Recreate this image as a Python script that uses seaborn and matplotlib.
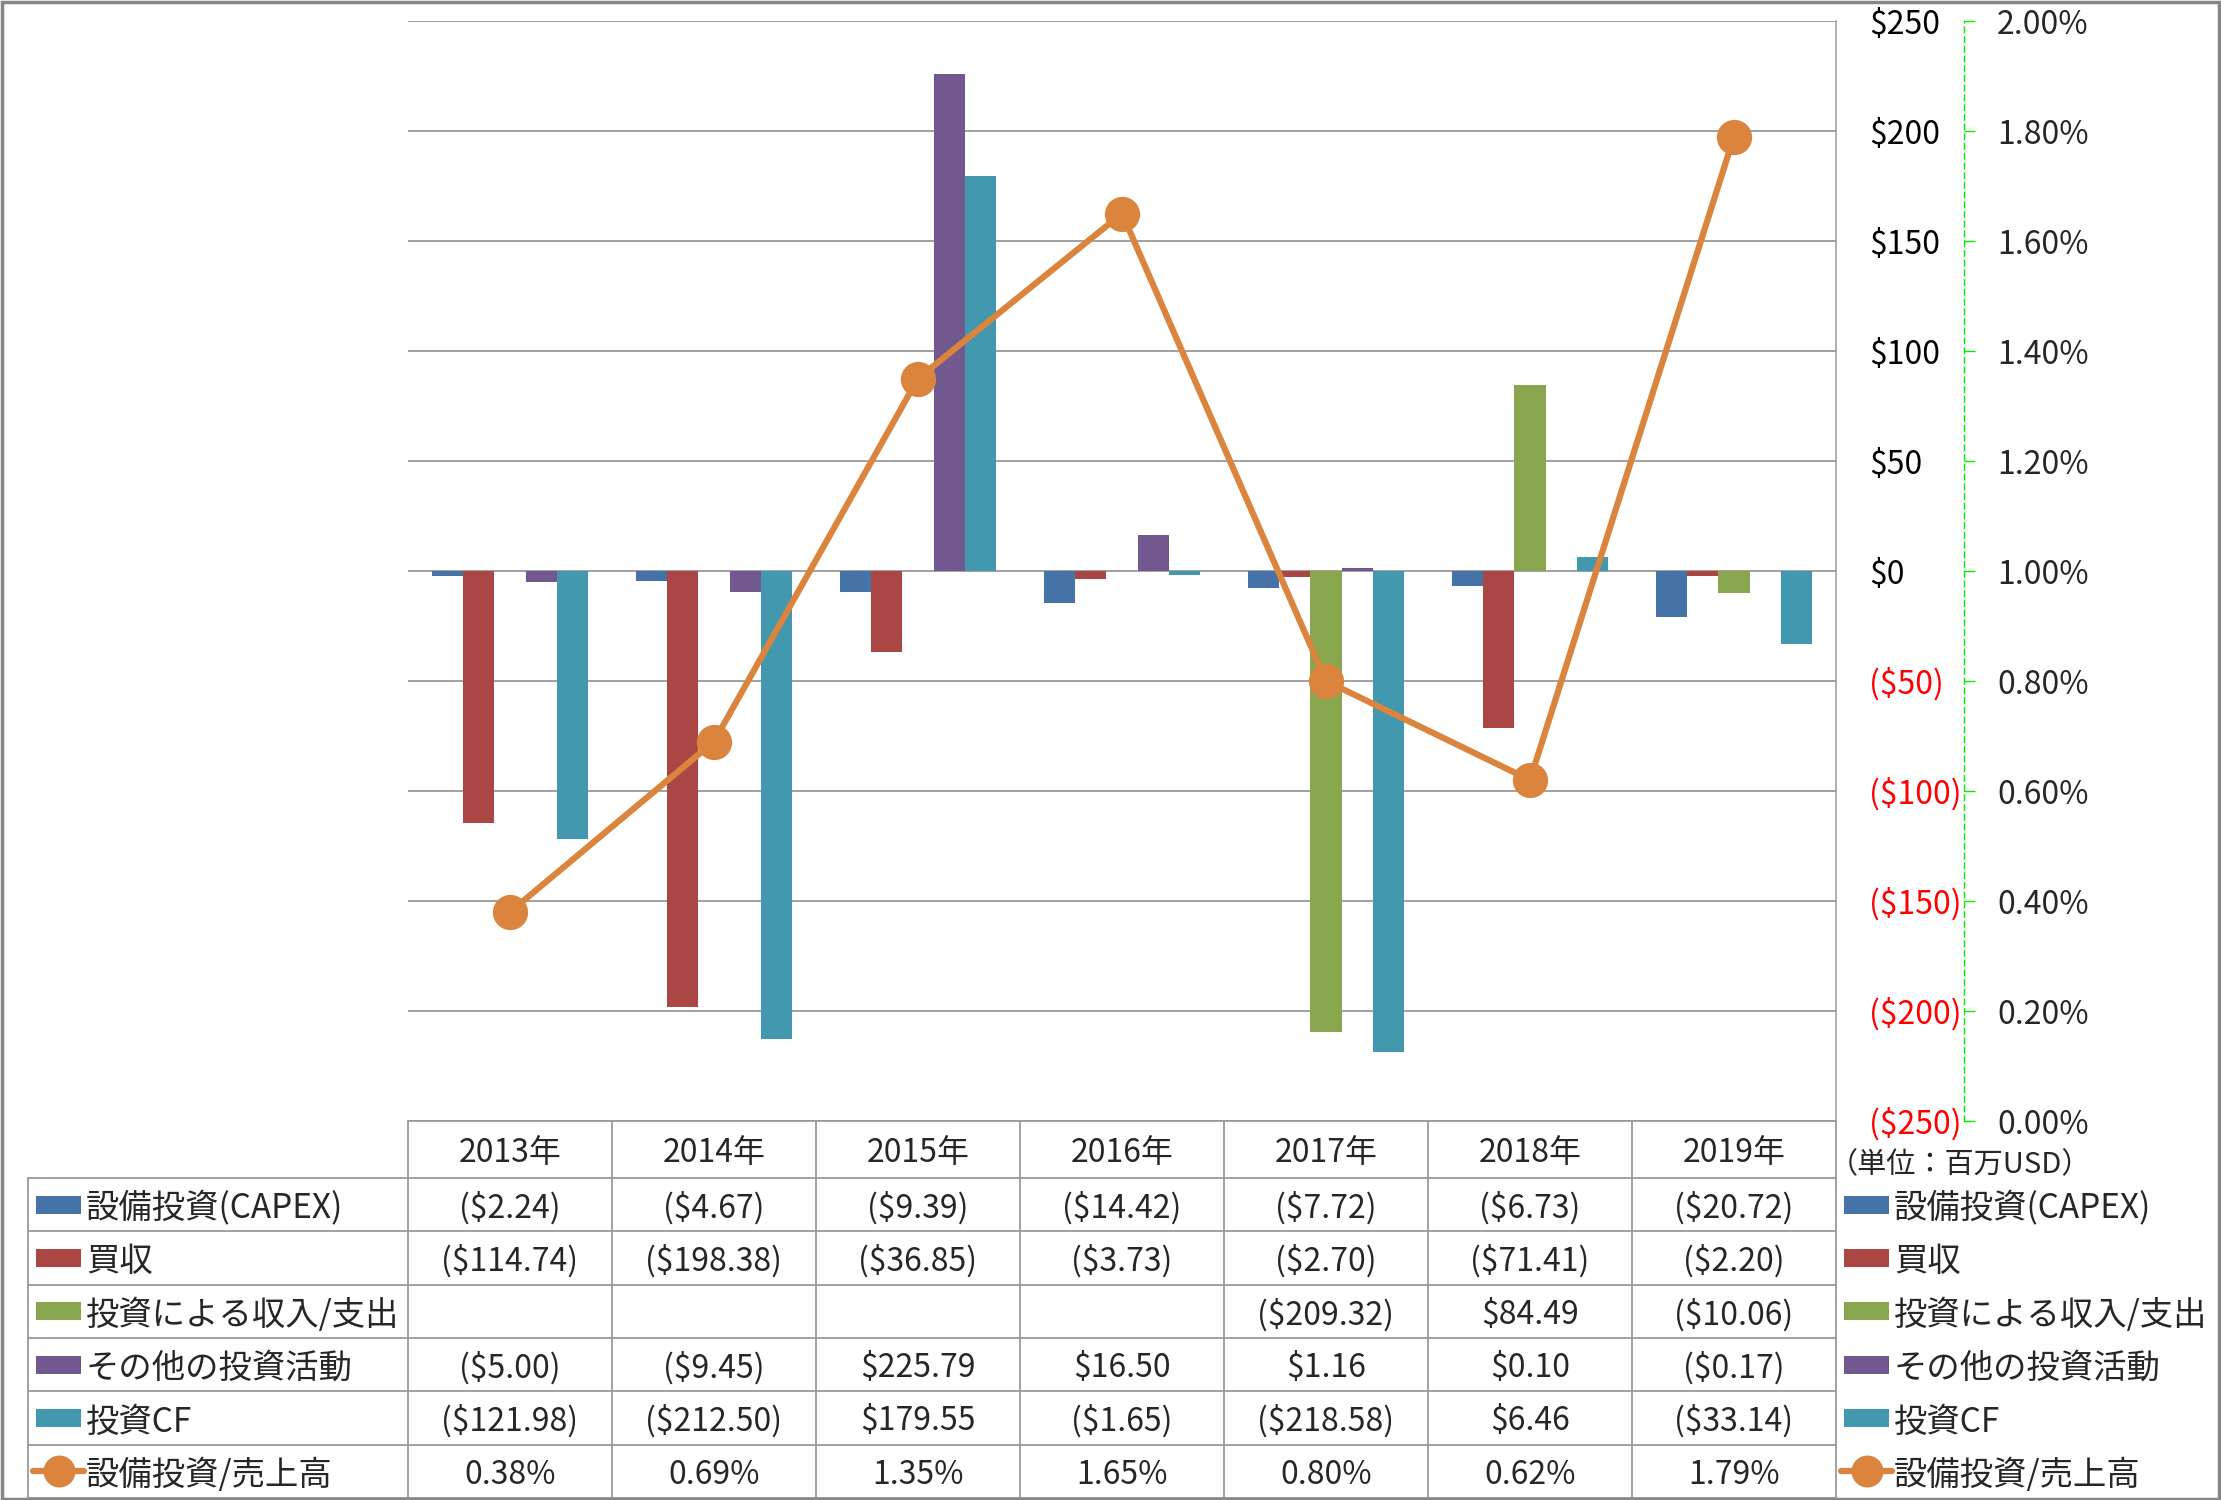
import numpy as np
import pandas as pd
import matplotlib.pyplot as plt
import seaborn as sns
from matplotlib.patches import Rectangle

years = ['2013年', '2014年', '2015年', '2016年', '2017年', '2018年', '2019年']
series = ['設備投資(CAPEX)', '買収', '投資による収入/支出', 'その他の投資活動', '投資CF']
capex = [-2.24, -4.67, -9.39, -14.42, -7.72, -6.73, -20.72]
acquisition = [-114.74, -198.38, -36.85, -3.73, -2.70, -71.41, -2.20]
invest_income = [np.nan, np.nan, np.nan, np.nan, -209.32, 84.49, -10.06]
other_invest = [-5.00, -9.45, 225.79, 16.50, 1.16, 0.10, -0.17]
invest_cf = [-121.98, -212.50, 179.55, -1.65, -218.58, 6.46, -33.14]
ratio_name = '設備投資/売上高'
capex_ratio = [0.38, 0.69, 1.35, 1.65, 0.80, 0.62, 1.79]  # percent

colors = ['#4572A7', '#AA4643', '#89A54E', '#71588F', '#4198AF']
line_color = '#DB843D'
grid_color = '#878787'
table_color = '#9A9A9A'

values = [capex, acquisition, invest_income, other_invest, invest_cf]
df = pd.DataFrame({
    'year': years * len(series),
    'series': [s for s in series for _ in years],
    'value': [v for vals in values for v in vals],
})

sns.set_theme(style='white')
plt.rcParams['font.family'] = ['Noto Sans CJK JP', 'DejaVu Sans']
FS = 23

W, H = 2221, 1500
fig = plt.figure(figsize=(W / 100, H / 100), dpi=100)

# layout in pixels
pl, pr, pt, pb = 408, 1836, 21, 1121
ax = fig.add_axes([pl / W, 1 - pb / H, (pr - pl) / W, (pb - pt) / H])

sns.barplot(data=df, x='year', y='value', hue='series', hue_order=series,
            palette=colors, width=5 / 6.5, errorbar=None, saturation=1,
            linewidth=0, legend=False, ax=ax)

ax2 = ax.twinx()
sns.pointplot(x=years, y=capex_ratio, ax=ax2, color=line_color, markers='o',
              markersize=22, linewidth=4.5, errorbar=None)

ax.set_xlim(-0.5, len(years) - 0.5)
ax.set_ylim(-250, 250)
lt = list(range(-250, 251, 50))
ax.set_yticks(lt)
ax.yaxis.tick_right()
ax.tick_params(axis='y', length=0, pad=24, labelsize=FS)
ax.set_yticklabels([f'${v}' if v >= 0 else f'(${-v})' for v in lt])
for lab, v in zip(ax.get_yticklabels(), lt):
    lab.set_color('#FF0000' if v < 0 else 'black')
    lab.set_horizontalalignment('left')
ax.set_xticks([])
ax.set_xlabel('')
ax.set_ylabel('')
ax.grid(axis='y', color=grid_color, linewidth=1.1)
ax.set_axisbelow(True)
for s in ['left', 'top', 'bottom']:
    ax.spines[s].set_visible(False)
ax.spines['right'].set_color(table_color)
ax.spines['right'].set_linewidth(1.1)

ax2.set_xlim(-0.5, len(years) - 0.5)
ax2.set_ylim(0, 2)
rt = np.round(np.arange(0, 2.01, 0.2), 2)
ax2.set_yticks(rt)
ax2.set_yticklabels([f'{v:.2f}%' for v in rt])
ax2.tick_params(axis='y', length=8, width=1, color='#00EE00', pad=16, labelsize=FS)
ax2.set_xticks([])
ax2.set_xlabel('')
ax2.set_ylabel('')
for s in ['left', 'top', 'bottom']:
    ax2.spines[s].set_visible(False)
ax2.spines['right'].set_position(('outward', 92))
ax2.spines['right'].set_color('#00EE00')
ax2.spines['right'].set_linestyle((0, (4, 3)))
ax2.spines['right'].set_linewidth(1)
ax2.grid(False)

# table + legend overlay in pixel coordinates
ov = fig.add_axes([0, 0, 1, 1], facecolor='none')
ov.set_xlim(0, W)
ov.set_ylim(H, 0)
ov.axis('off')

col_w = (pr - pl) / len(years)
tl = 28
head_bot = 1178
row_h = (1498 - head_bot) / 6
row_names = series + [ratio_name]


def fmt(v):
    if np.isnan(v):
        return ''
    return f'(${-v:.2f})' if v < 0 else f'${v:.2f}'


lw = 1.3
# header
ov.plot([pl, pr], [pb, pb], color=table_color, lw=lw)
for i in range(len(years) + 1):
    ov.plot([pl + i * col_w] * 2, [pb, 1498], color=table_color, lw=lw)
for i, y in enumerate(years):
    ov.text(pl + (i + 0.5) * col_w, (pb + head_bot) / 2, y, ha='center',
            va='center_baseline', fontsize=FS)
# rows
ov.plot([tl, tl], [head_bot, 1498], color=table_color, lw=lw)
for r in range(7):
    ov.plot([tl, pr], [head_bot + r * row_h] * 2, color=table_color, lw=lw)

for r, name in enumerate(row_names):
    yc = head_bot + (r + 0.5) * row_h
    vals = values[r] if r < 5 else None
    for i in range(len(years)):
        txt = fmt(vals[i]) if vals is not None else f'{capex_ratio[i]:.2f}%'
        ov.text(pl + (i + 0.5) * col_w, yc, txt, ha='center',
                va='center_baseline', fontsize=FS)
    # keys on left (table) and right (legend)
    for kx in (36, 1844):
        if r < 5:
            ov.add_patch(Rectangle((kx, yc - 9), 45, 18, color=colors[r], lw=0))
        else:
            ov.plot([kx - 3, kx + 48], [yc, yc], color=line_color, lw=4.5,
                    solid_capstyle='round')
            ov.plot([kx + 22.5], [yc], 'o', color=line_color, markersize=22)
        ov.text(kx + 50, yc, name, ha='left', va='center_baseline', fontsize=24)

ov.text(1960, 1162, '（単位：百万USD）', ha='center', va='center_baseline', fontsize=21)

fig.patches.append(Rectangle((0.0008, 0.001), 0.9984, 0.998, transform=fig.transFigure,
                             fill=False, edgecolor='#868686', linewidth=2.5))

fig.savefig('out.png', dpi=100)
